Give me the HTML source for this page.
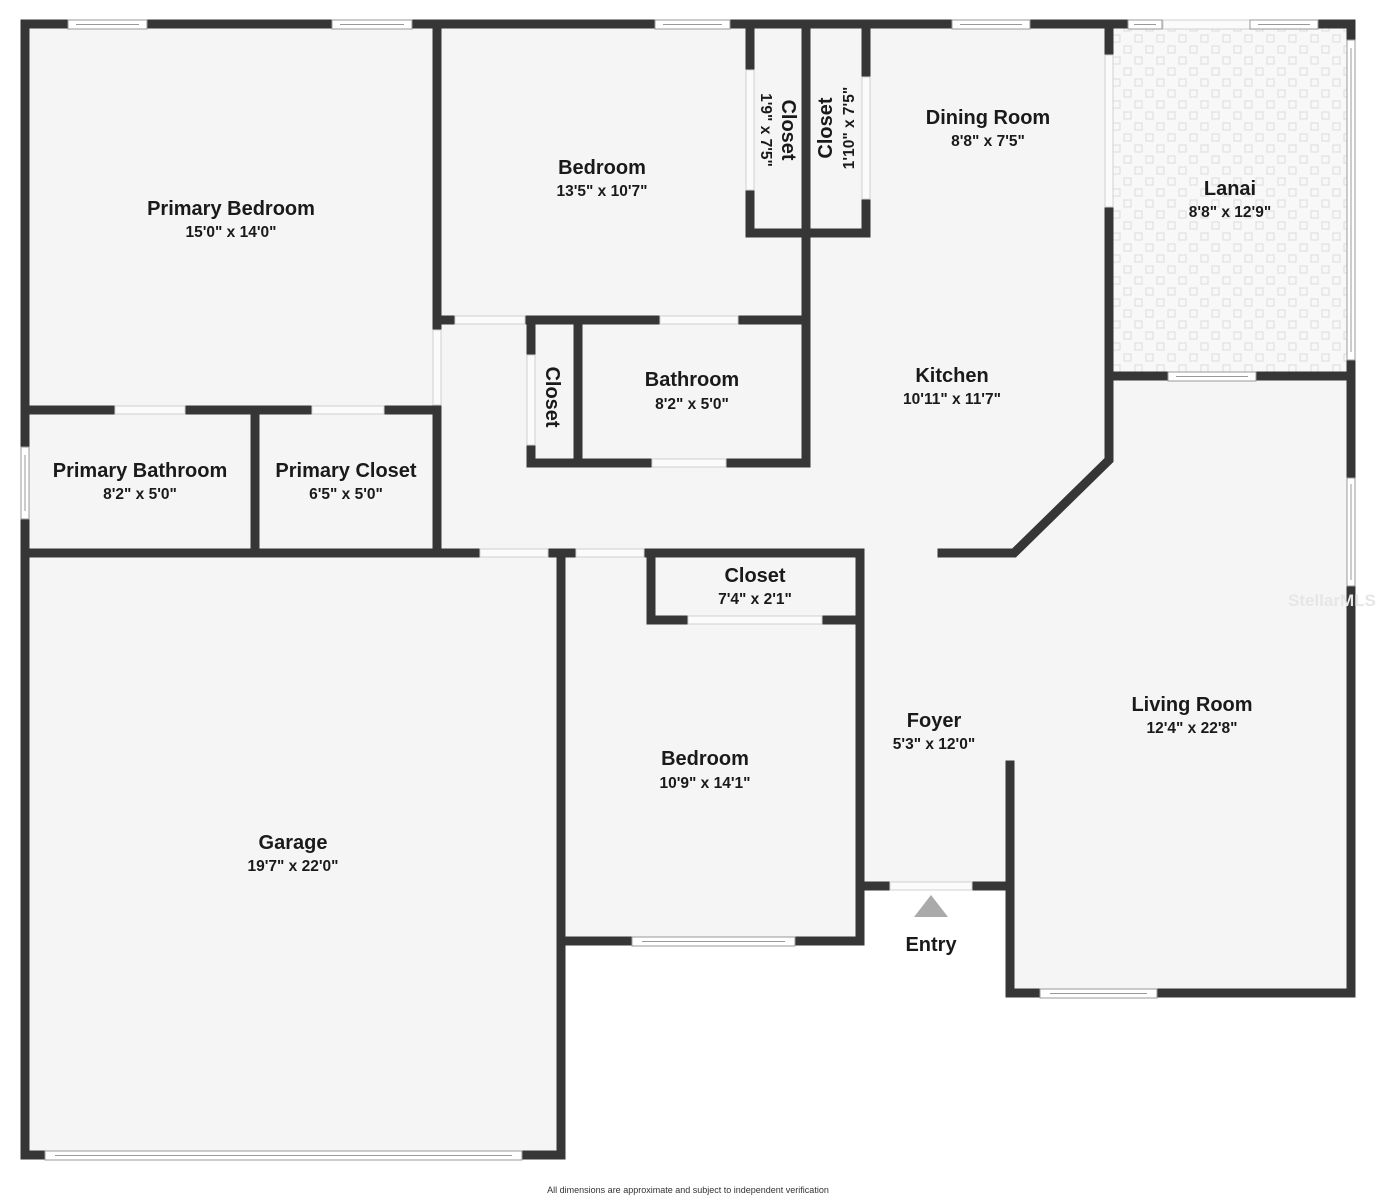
<!DOCTYPE html>
<html><head><meta charset="utf-8"><style>
html,body{margin:0;padding:0;background:#fff;}
svg{display:block;}
text{font-family:"Liberation Sans",sans-serif;fill:#1a1a1a;text-anchor:middle;}
.l{font-size:20px;font-weight:bold;}
.d{font-size:15.5px;font-weight:bold;}
</style></head><body>
<svg width="1376" height="1200" viewBox="0 0 1376 1200" xmlns="http://www.w3.org/2000/svg">
<defs>
<pattern id="tile" width="22" height="22" patternUnits="userSpaceOnUse">
<rect width="22" height="22" fill="#f8f8f8"/>
<rect x="2" y="2" width="7" height="7" fill="none" stroke="#dcdcdc" stroke-width="1"/>
<rect x="13" y="13" width="7" height="7" fill="none" stroke="#dcdcdc" stroke-width="1"/>
</pattern>
</defs>
<polygon fill="#f5f5f5" points="25,24 1351,24 1351,993 1010,993 1010,886 860,886 860,941 561,941 561,1155 25,1155"/>
<rect x="1109" y="24" width="242" height="352" fill="url(#tile)"/>
<g stroke="#363636" stroke-width="9" stroke-linecap="square" fill="none">
<path d="M25,24 H1351 V993 H1010 V765"/>
<path d="M25,24 V1155 H561 V553"/>
<path d="M25,553 H860 V941 H561"/>
<path d="M860,886 H1010"/>
<path d="M25,410 H437"/>
<path d="M437,24 V553"/>
<path d="M255,410 V553"/>
<path d="M437,320 H806"/>
<path d="M806,24 V463 H531 V320"/>
<path d="M578,320 V463"/>
<path d="M750,24 V233 H866 V24"/>
<path d="M651,553 V620 H860"/>
<path d="M1109,24 V460 L1014,553 H942"/>
<path d="M1109,376 H1351"/>
</g>
<g fill="#fbfbfb" stroke="#d0d0d0" stroke-width="1">
<rect x="455" y="316" width="70" height="8"/>
<rect x="660" y="316" width="78" height="8"/>
<rect x="433" y="330" width="8" height="75"/>
<rect x="115" y="406" width="70" height="8"/>
<rect x="312" y="406" width="72" height="8"/>
<rect x="527" y="355" width="8" height="90"/>
<rect x="652" y="459" width="74" height="8"/>
<rect x="746" y="70" width="8" height="120"/>
<rect x="862" y="77" width="8" height="122"/>
<rect x="1105" y="55" width="8" height="152"/>
<rect x="480" y="549" width="68" height="8"/>
<rect x="576" y="549" width="68" height="8"/>
<rect x="688" y="616" width="134" height="8"/>
<rect x="890" y="882" width="82" height="8"/>
<rect x="1163" y="20" width="87" height="9"/>
</g>
<g fill="#fff" stroke="#999" stroke-width="1">
<rect x="68" y="20" width="79" height="9"/><line x1="76" y1="24.5" x2="139" y2="24.5"/>
<rect x="332" y="20" width="80" height="9"/><line x1="340" y1="24.5" x2="404" y2="24.5"/>
<rect x="655" y="20" width="75" height="9"/><line x1="663" y1="24.5" x2="722" y2="24.5"/>
<rect x="952" y="20" width="78" height="9"/><line x1="960" y1="24.5" x2="1022" y2="24.5"/>
<rect x="1128" y="20" width="34" height="9"/><line x1="1134" y1="24.5" x2="1156" y2="24.5"/>
<rect x="1250" y="20" width="68" height="9"/><line x1="1258" y1="24.5" x2="1310" y2="24.5"/>
<rect x="1347" y="40" width="8" height="320"/><line x1="1351" y1="48" x2="1351" y2="352"/>
<rect x="1168" y="372" width="88" height="9"/><line x1="1176" y1="376.5" x2="1248" y2="376.5"/>
<rect x="1347" y="478" width="8" height="108"/><line x1="1351" y1="484" x2="1351" y2="580"/>
<rect x="1040" y="989" width="117" height="9"/><line x1="1050" y1="993.5" x2="1147" y2="993.5"/>
<rect x="632" y="937" width="163" height="9"/><line x1="642" y1="941.5" x2="785" y2="941.5"/>
<rect x="45" y="1151" width="477" height="9"/><line x1="55" y1="1155.5" x2="512" y2="1155.5"/>
<rect x="21" y="447" width="8" height="72"/><line x1="25" y1="455" x2="25" y2="511"/>
</g>
<polygon points="931,895 914,917 948,917" fill="#aaa"/>
<text class="l" x="231" y="215">Primary Bedroom</text><text class="d" x="231" y="237">15'0" x 14'0"</text>
<text class="l" x="602" y="174">Bedroom</text><text class="d" x="602" y="196">13'5" x 10'7"</text>
<text class="l" x="988" y="124">Dining Room</text><text class="d" x="988" y="146">8'8" x 7'5"</text>
<text class="l" x="1230" y="195">Lanai</text><text class="d" x="1230" y="217">8'8" x 12'9"</text>
<text class="l" x="692" y="386">Bathroom</text><text class="d" x="692" y="409">8'2" x 5'0"</text>
<text class="l" x="952" y="382">Kitchen</text><text class="d" x="952" y="404">10'11" x 11'7"</text>
<text class="l" x="140" y="477">Primary Bathroom</text><text class="d" x="140" y="499">8'2" x 5'0"</text>
<text class="l" x="346" y="477">Primary Closet</text><text class="d" x="346" y="499">6'5" x 5'0"</text>
<text class="l" x="755" y="582">Closet</text><text class="d" x="755" y="604">7'4" x 2'1"</text>
<text class="l" x="934" y="727">Foyer</text><text class="d" x="934" y="749">5'3" x 12'0"</text>
<text class="l" x="1192" y="711">Living Room</text><text class="d" x="1192" y="733">12'4" x 22'8"</text>
<text class="l" x="705" y="765">Bedroom</text><text class="d" x="705" y="788">10'9" x 14'1"</text>
<text class="l" x="293" y="849">Garage</text><text class="d" x="293" y="871">19'7" x 22'0"</text>
<text class="l" x="931" y="951">Entry</text>
<text class="l" transform="translate(546,397) rotate(90)">Closet</text>
<text class="l" transform="translate(782,130) rotate(90)">Closet</text>
<text class="d" transform="translate(761,130) rotate(90)">1'9" x 7'5"</text>
<text class="l" transform="translate(832,128) rotate(-90)">Closet</text>
<text class="d" transform="translate(854,128) rotate(-90)">1'10" x 7'5"</text>
<text x="1288" y="606" style="font-size:17px;fill:#e6e6e6;font-weight:bold;text-anchor:start">StellarMLS</text>
<text x="688" y="1193" style="font-size:9px;fill:#333">All dimensions are approximate and subject to independent verification</text>
</svg>
</body></html>
